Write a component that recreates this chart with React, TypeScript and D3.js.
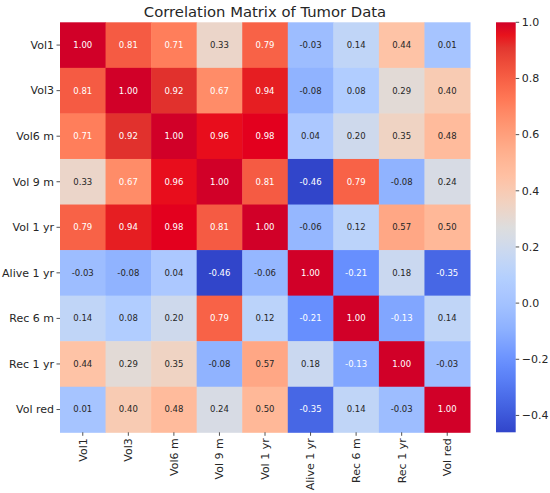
import React from "react";
import * as d3 from "d3";

const labels = ["Vol1", "Vol3", "Vol6 m", "Vol 9 m", "Vol 1 yr", "Alive 1 yr", "Rec 6 m", "Rec 1 yr", "Vol red"];

const rowVol1 = [1.0, 0.81, 0.71, 0.33, 0.79, -0.03, 0.14, 0.44, 0.01];
const rowVol3 = [0.81, 1.0, 0.92, 0.67, 0.94, -0.08, 0.08, 0.29, 0.4];
const rowVol6 = [0.71, 0.92, 1.0, 0.96, 0.98, 0.04, 0.2, 0.35, 0.48];
const rowVol9 = [0.33, 0.67, 0.96, 1.0, 0.81, -0.46, 0.79, -0.08, 0.24];
const rowVol1yr = [0.79, 0.94, 0.98, 0.81, 1.0, -0.06, 0.12, 0.57, 0.5];
const rowAlive = [-0.03, -0.08, 0.04, -0.46, -0.06, 1.0, -0.21, 0.18, -0.35];
const rowRec6 = [0.14, 0.08, 0.2, 0.79, 0.12, -0.21, 1.0, -0.13, 0.14];
const rowRec1 = [0.44, 0.29, 0.35, -0.08, 0.57, 0.18, -0.13, 1.0, -0.03];
const rowVolRed = [0.01, 0.4, 0.48, 0.24, 0.5, -0.35, 0.14, -0.03, 1.0];
const matrix = [rowVol1, rowVol3, rowVol6, rowVol9, rowVol1yr, rowAlive, rowRec6, rowRec1, rowVolRed];

const cbTicks = [1.0, 0.8, 0.6, 0.4, 0.2, 0.0, -0.2, -0.4];
const title = "Correlation Matrix of Tumor Data";

// matplotlib coolwarm control colours
const coolwarm = [
  [59, 76, 192], [68, 90, 204], [77, 104, 215], [87, 117, 225], [98, 130, 234],
  [108, 142, 241], [119, 154, 247], [130, 165, 251], [141, 176, 254], [152, 185, 255],
  [163, 194, 255], [174, 201, 253], [184, 208, 249], [194, 213, 244], [204, 217, 238],
  [213, 219, 230], [221, 221, 221], [229, 216, 209], [236, 211, 197], [241, 204, 185],
  [245, 196, 173], [247, 187, 160], [247, 177, 148], [247, 166, 135], [244, 154, 123],
  [241, 141, 111], [236, 127, 99], [229, 112, 88], [222, 96, 77], [213, 80, 66],
  [203, 62, 56], [192, 40, 47], [180, 4, 38],
];

function cwBase(t: number) {
  t = Math.max(0, Math.min(1, t));
  const n = coolwarm.length - 1;
  const p = t * n;
  const i = Math.min(n - 1, Math.floor(p));
  const f = p - i;
  const a = coolwarm[i], b = coolwarm[i + 1];
  return d3.rgb(a[0] + (b[0] - a[0]) * f, a[1] + (b[1] - a[1]) * f, a[2] + (b[2] - a[2]) * f);
}

// the reference rendering is a little more vivid than the raw colormap
function cw(t: number): string {
  const h = d3.hsl(cwBase(t));
  const red = !isNaN(h.h) && (h.h < 40 || h.h > 300);
  if (!isNaN(h.s)) h.s = Math.min(1, h.s * (red ? 1.3 : 1.15));
  if (red) {
    const k = Math.max(0, Math.min(1, (0.75 - h.l) / 0.4));
    h.l = h.l + 0.05 * k;
  }
  return d3.rgb(h).formatHex();
}

function luminance(c: string): number {
  const r = d3.rgb(c);
  const lin = (v: number) => {
    const x = v / 255;
    return x <= 0.03928 ? x / 12.92 : Math.pow((x + 0.055) / 1.055, 2.4);
  };
  return 0.2126 * lin(r.r) + 0.7152 * lin(r.g) + 0.0722 * lin(r.b);
}

const FONT = "DejaVu Sans, sans-serif";
const TXT = "#262626";

export default function App() {
  const W = 550, H = 493;
  const left = 60, top = 22.3, size = 410;
  const allVals = matrix.flat();
  const vmin = d3.min(allVals) as number;
  const vmax = d3.max(allVals) as number;
  const norm = d3.scaleLinear().domain([vmin, vmax]).range([0, 1]);
  const x = d3.scaleBand<string>().domain(labels).range([left, left + size]);
  const y = d3.scaleBand<string>().domain(labels).range([top, top + size]);
  const cbX = 496, cbW = 19.7;
  const cbY = d3.scaleLinear().domain([vmin, vmax]).range([top + size, top]);
  const gradStops = d3.range(0, 1.0001, 1 / 32);

  return (
    <svg width={W} height={H} style={{ position: "absolute", left: 0, top: 0, background: "#fff" }} fontFamily={FONT}>
      <rect x={0} y={0} width={W} height={H} fill="#fff" />
      <defs>
        <linearGradient id="cbgrad" x1="0" y1="1" x2="0" y2="0">
          {gradStops.map((t, i) => (
            <stop key={i} offset={t} stopColor={cw(t)} />
          ))}
        </linearGradient>
      </defs>
      <text x={left + size / 2} y={17} textAnchor="middle" fontSize={14.8} fill={TXT}>{title}</text>
      {matrix.map((row, ri) =>
        row.map((v, ci) => {
          const base = cwBase(norm(v)).formatHex();
          const fill = cw(norm(v));
          const tc = luminance(base) > 0.408 ? TXT : "#ffffff";
          const cx = (x(labels[ci]) as number);
          const cy = (y(labels[ri]) as number);
          return (
            <g key={`${ri}-${ci}`}>
              <rect x={cx} y={cy} width={x.bandwidth() + 0.5} height={y.bandwidth() + 0.5} fill={fill} />
              <text x={cx + x.bandwidth() / 2} y={cy + y.bandwidth() / 2} dy="0.35em" textAnchor="middle" fontSize={8.5} fill={tc}>
                {v.toFixed(2)}
              </text>
            </g>
          );
        })
      )}
      {labels.map((l) => {
        const cy = (y(l) as number) + y.bandwidth() / 2;
        return (
          <g key={"y" + l}>
            <line x1={left - 3.5} x2={left} y1={cy} y2={cy} stroke={TXT} strokeWidth={0.8} />
            <text x={left - 6} y={cy} dy="0.35em" textAnchor="end" fontSize={11} fill={TXT}>{l}</text>
          </g>
        );
      })}
      {labels.map((l) => {
        const cx = (x(l) as number) + x.bandwidth() / 2;
        const by = top + size;
        return (
          <g key={"x" + l}>
            <line x1={cx} x2={cx} y1={by} y2={by + 3.5} stroke={TXT} strokeWidth={0.8} />
            <text transform={`translate(${cx},${by + 6}) rotate(-90)`} dy="0.35em" textAnchor="end" fontSize={11} fill={TXT}>{l}</text>
          </g>
        );
      })}
      <rect x={cbX} y={top} width={cbW} height={size} fill="url(#cbgrad)" />
      {cbTicks.map((t) => {
        const ty = cbY(t);
        return (
          <g key={"cb" + t}>
            <line x1={cbX + cbW} x2={cbX + cbW + 3.5} y1={ty} y2={ty} stroke={TXT} strokeWidth={0.8} />
            <text x={cbX + cbW + 6} y={ty} dy="0.35em" fontSize={11} fill={TXT}>
              {t < 0 ? "\u2212" + Math.abs(t).toFixed(1) : t.toFixed(1)}
            </text>
          </g>
        );
      })}
    </svg>
  );
}
